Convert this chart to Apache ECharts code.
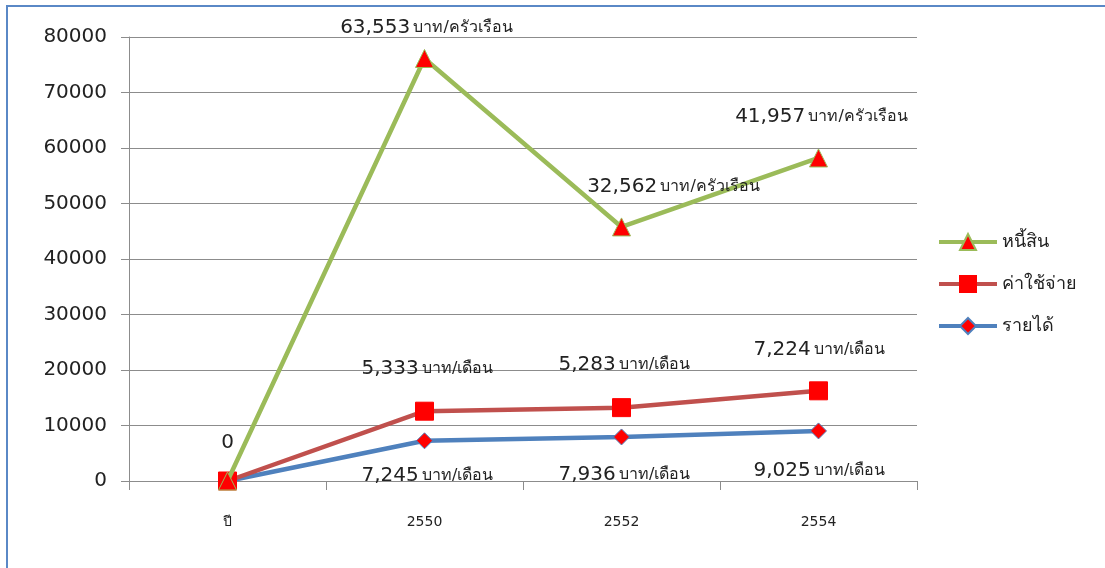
<!DOCTYPE html>
<html>
<head>
<meta charset="utf-8">
<script src="https://cdn.jsdelivr.net/npm/echarts@6/dist/echarts.min.js"></script>
<style>
  html, body { margin: 0; padding: 0; background: #fff; }
  #chart { width: 1105px; height: 568px; }
</style>
</head>
<body>
<div id="chart"></div>
<script>
// ข้อมูล (กราฟเส้นแบบซ้อน: รายได้ -> ค่าใช้จ่าย -> หนี้สิน)
const categories = ['ปี', '2550', '2552', '2554']
const income = [0, 7245, 7936, 9025]     // รายได้ บาท/เดือน
const expense = [0, 5333, 5283, 7224]    // ค่าใช้จ่าย บาท/เดือน
const debt = [0, 63553, 32562, 41957]    // หนี้สิน บาท/ครัวเรือน
const yTicks = [0, 10000, 20000, 30000, 40000, 50000, 60000, 70000, 80000]

const FONT = '"DejaVu Sans", "Noto Sans", sans-serif'

// ตำแหน่งป้ายกำกับของแต่ละจุด (เลื่อนจากจุดศูนย์กลาง)
const debtOffsets = [null, [2, -31], [52, -40], [3, -41]]
const expenseOffsets = [[0, -38], [3, -42], [3, -43], [1, -41]]
const incomeOffsets = [null, [3, 35], [3, 38], [1, 40]]

const fmt = (v) => v.toLocaleString('en-US')

const buildData = (values, offsets, unit) =>
  values.map((v, i) => {
    const off = offsets[i]
    if (!off) return v
    const text = v === 0 ? '{n|0}' : '{n|' + fmt(v) + '} {u|' + unit + '}'
    return {
      value: v,
      label: { show: true, position: 'inside', offset: off, formatter: text },
    }
  })

const rich = {
  n: { fontFamily: FONT, fontSize: 20, color: '#222' },
  u: { fontFamily: FONT, fontSize: 16, color: '#222' },
}

const chart = echarts.init(document.getElementById('chart'))

chart.setOption({
  animation: false,
  graphic: [{
    type: 'rect',
    shape: { x: 7, y: 6, width: 1200, height: 700 },
    style: { fill: 'none', stroke: '#5a88c6', lineWidth: 2 },
    silent: true,
  }],
  grid: { left: 129, right: 188, top: 37, bottom: 87 },
  legend: {
    orient: 'vertical',
    left: 932,
    top: 228,
    itemWidth: 58,
    itemHeight: 20,
    itemGap: 24,
    data: ['หนี้สิน', 'ค่าใช้จ่าย', 'รายได้'],
    lineStyle: { width: 4 },
    textStyle: { fontFamily: FONT, fontSize: 18, color: '#222' },
  },
  xAxis: {
    type: 'category',
    data: categories,
    axisLine: { lineStyle: { color: '#8c8c8c', width: 1 } },
    axisTick: { show: true, length: 9, lineStyle: { color: '#8c8c8c' } },
    axisLabel: { fontFamily: FONT, fontSize: 14, color: '#222', margin: 34 },
  },
  yAxis: {
    type: 'value',
    min: yTicks[0],
    max: yTicks[yTicks.length - 1],
    interval: 10000,
    axisLine: { show: true, lineStyle: { color: '#8c8c8c' } },
    axisTick: { show: true, length: 8, lineStyle: { color: '#8c8c8c' } },
    axisLabel: { fontFamily: FONT, fontSize: 20, color: '#222', margin: 22, formatter: (v) => String(v) },
    splitLine: { lineStyle: { color: '#8c8c8c', width: 1 } },
  },
  series: [
    {
      name: 'รายได้',
      type: 'line',
      stack: 'total',
      data: buildData(income, incomeOffsets, 'บาท/เดือน'),
      lineStyle: { color: '#4f81bd', width: 4.5 },
      itemStyle: { color: '#ff0000', borderColor: '#4f81bd', borderWidth: 1 },
      symbol: 'diamond',
      symbolSize: 16,
      label: { rich },
      z: 2,
    },
    {
      name: 'ค่าใช้จ่าย',
      type: 'line',
      stack: 'total',
      data: buildData(expense, expenseOffsets, 'บาท/เดือน'),
      lineStyle: { color: '#c0504d', width: 4.5 },
      itemStyle: { color: '#ff0000', borderColor: '#ff0000', borderWidth: 1 },
      symbol: 'rect',
      symbolSize: 18,
      label: { rich },
      z: 3,
    },
    {
      name: 'หนี้สิน',
      type: 'line',
      stack: 'total',
      data: buildData(debt, debtOffsets, 'บาท/ครัวเรือน'),
      lineStyle: { color: '#9bbb59', width: 4.5 },
      itemStyle: { color: '#ff0000', borderColor: '#9bbb59', borderWidth: 1 },
      symbol: 'triangle',
      symbolSize: 18,
      label: { rich },
      z: 4,
    },
  ],
})
</script>
</body>
</html>
